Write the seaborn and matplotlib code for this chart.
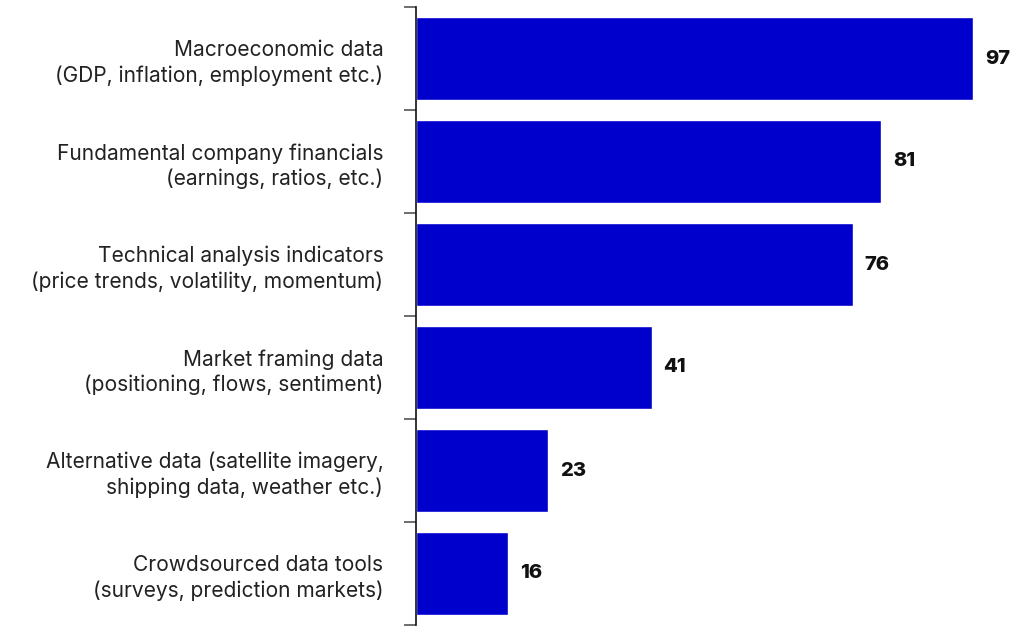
import matplotlib
matplotlib.use("Agg")
import matplotlib.pyplot as plt
import seaborn as sns
import pandas as pd
from matplotlib.ticker import FixedLocator

categories = [
    "Macroeconomic data\n(GDP, inflation, employment etc.)",
    "Fundamental company financials\n(earnings, ratios, etc.)",
    "Technical analysis indicators\n(price trends, volatility, momentum)",
    "Market framing data\n(positioning, flows, sentiment)",
    "Alternative data (satellite imagery,\nshipping data, weather etc.)",
    "Crowdsourced data tools\n(surveys, prediction markets)",
]
values = [97, 81, 76, 41, 23, 16]

df = pd.DataFrame({"category": categories, "value": values})

sns.set_theme(style="white")
plt.rcParams["font.family"] = ["Inter", "DejaVu Sans"]

fig = plt.figure(figsize=(10.22, 6.26), dpi=100)
ax = fig.add_axes([416 / 1022, 1 / 626, 606 / 1022, 618 / 626])

sns.barplot(data=df, x="value", y="category", color="#0000CC",
            saturation=1, width=0.8, ax=ax)

ax.set_xlim(0, 105.5)
ax.set_ylim(5.5, -0.5)
ax.set_xlabel("")
ax.set_ylabel("")
ax.set_xticks([])

for side in ["top", "right", "bottom"]:
    ax.spines[side].set_visible(False)
ax.spines["left"].set_color("#111111")
ax.spines["left"].set_linewidth(1.2)

ax.yaxis.set_minor_locator(FixedLocator([i - 0.5 for i in range(len(categories) + 1)]))
ax.tick_params(axis="y", which="major", length=0, pad=23.5,
               labelsize=15.1, labelcolor="#222222")
ax.tick_params(axis="y", which="minor", length=8.6, width=1.2,
               color="#555555", left=True)
for lbl in ax.get_yticklabels():
    lbl.set_multialignment("right")
    lbl.set_linespacing(1.3)

for i, v in enumerate(values):
    ax.text(v + 2.1, i, f"{v}", va="center", ha="left",
            fontsize=14.5, fontweight="heavy", color="#111111")

fig.savefig("out.png", dpi=100)
